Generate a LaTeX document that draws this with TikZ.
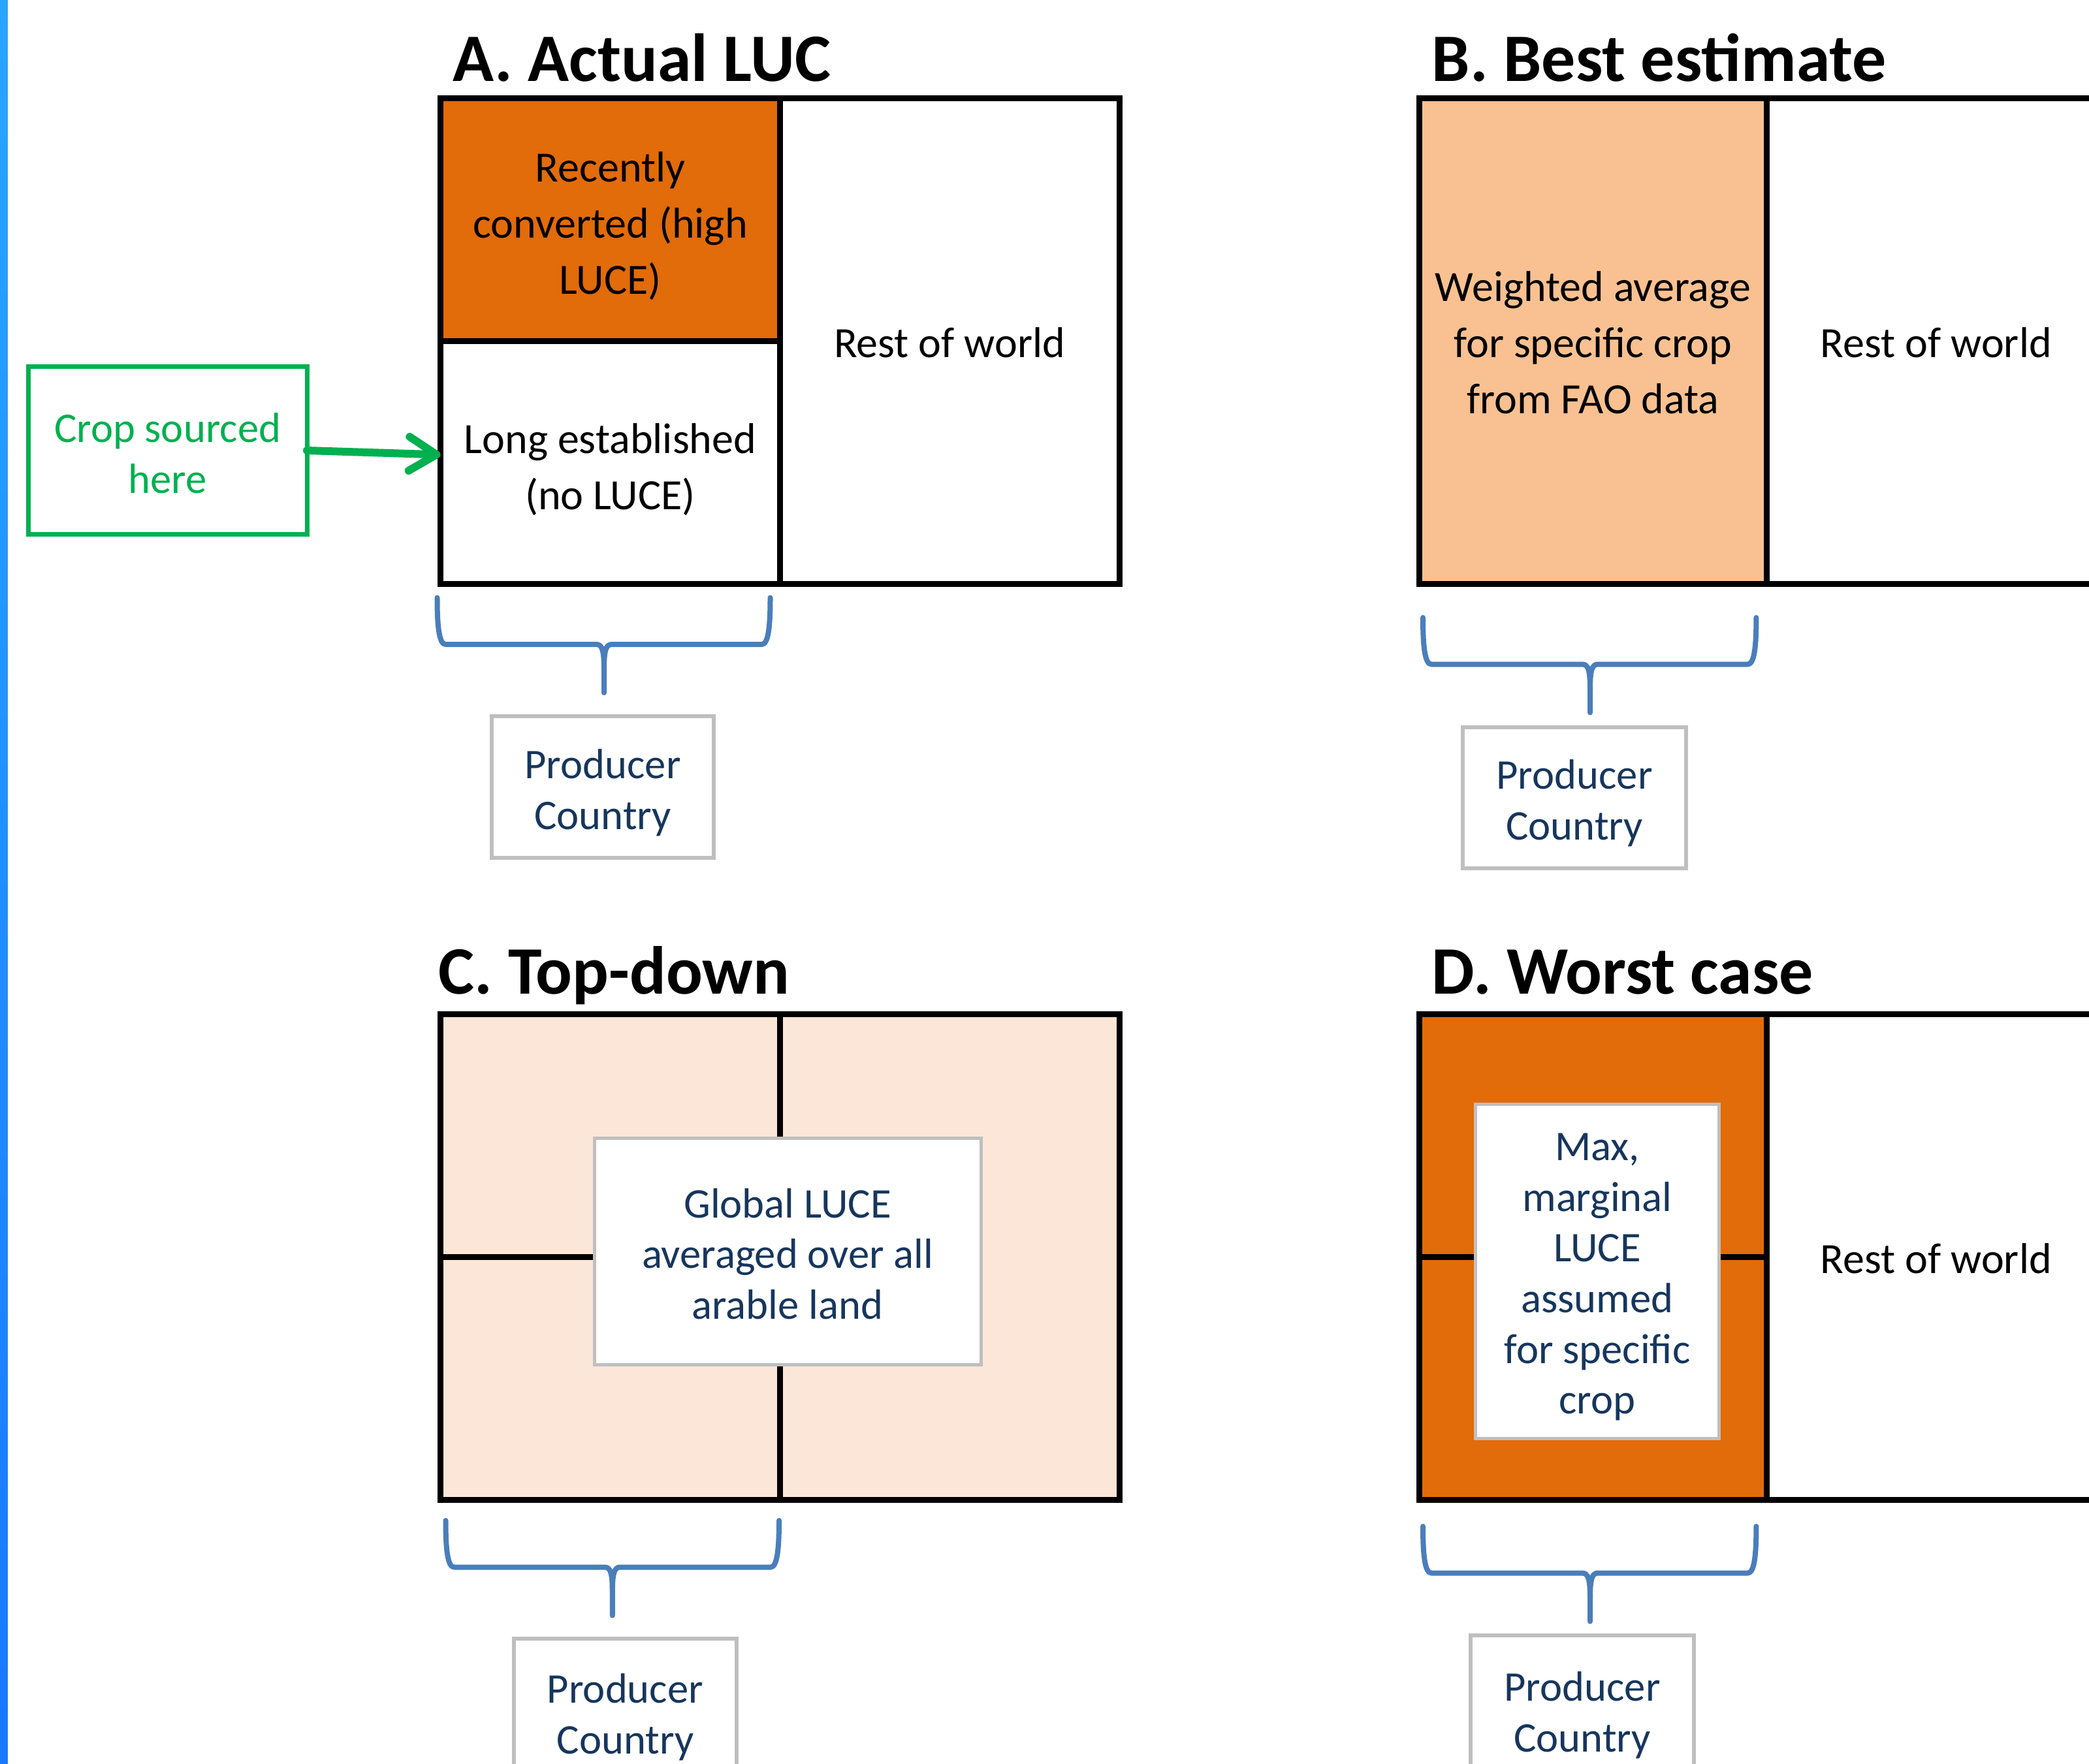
\documentclass[tikz,border=0pt]{standalone}
\usepackage{fontspec}
\setmainfont{Carlito}
\usepackage{tikz}
\usetikzlibrary{arrows.meta}

\definecolor{lucehigh}{HTML}{E26B0A}
\definecolor{luceavg}{HTML}{F9C191}
\definecolor{lucelow}{HTML}{FBE6D8}
\definecolor{notenavy}{HTML}{17365D}
\definecolor{sourcegreen}{HTML}{00B050}
\definecolor{braceblue}{HTML}{4A7EBB}
\definecolor{boxgray}{HTML}{BFBFBF}
\definecolor{barlight}{RGB}{40,165,255}
\definecolor{bardark}{RGB}{24,120,255}

\newcommand{\cellfont}{\fontsize{18.8}{24.5}\selectfont}
\newcommand{\lucenotefont}{\fontsize{18.4}{22.1}\selectfont}
\newcommand{\paneltitlefont}{\fontsize{29.6}{35}\selectfont\bfseries}

% left x, right x, top y, centre x
\newcommand{\curlybrace}[4]{%
 \draw[bracket] (#1,#3) .. controls (#1,#3-0.45) and (#1+0.03,#3-0.715) .. (#1+0.13,#3-0.715)
   -- (#4-0.12,#3-0.715) .. controls (#4-0.03,#3-0.715) and (#4,#3-0.8) .. (#4,#3-1.1) -- (#4,#3-1.455);
 \draw[bracket] (#2,#3) .. controls (#2,#3-0.45) and (#2-0.03,#3-0.715) .. (#2-0.13,#3-0.715)
   -- (#4+0.12,#3-0.715) .. controls (#4+0.03,#3-0.715) and (#4,#3-0.8) .. (#4,#3-1.1);
}

\tikzset{
 cellbox/.style={draw=black, line width=0.09cm, inner sep=0pt, outer sep=0pt},
 celltext/.style={inner sep=0pt, align=center, font=\cellfont},
 paneltitle/.style={font=\paneltitlefont, anchor=base west, inner sep=0pt},
 notebox/.style={draw=boxgray, line width=0.05cm, fill=white, inner sep=0pt},
 notetext/.style={inner sep=0pt, align=center, text=notenavy, font=\lucenotefont},
 producer/.style={notebox, line width=0.065cm},
 sourcebox/.style={draw=sourcegreen, line width=0.07cm, inner sep=0pt, outer sep=0pt, align=center, text=sourcegreen, font=\lucenotefont},
 bracket/.style={draw=braceblue, line width=0.08cm, line cap=round, line join=round},
 croparrow/.style={draw=sourcegreen, line width=0.12cm, line cap=round,
   -{Straight Barb[length=0.42cm, width=0.52cm, line cap=round, line join=round]}}
}

\begin{document}
\begin{tikzpicture}
%\draw[help lines] (0,0) grid (32,-27);
\useasboundingbox (0,0) rectangle (31.99,-27.01);
\clip (0,0) rectangle (31.99,-27.01);

\shade[top color=barlight, bottom color=bardark] (0,0) rectangle (0.12,-27.01);

% A. actual
\begin{scope}[xshift=6.745cm, yshift=-1.505cm]
 \node[paneltitle] (titleA) at (0.185,0.265) {A. Actual LUC};
 \node[cellbox, fill=lucehigh, minimum width=5.2cm, minimum height=3.72cm] (recentA) at (2.6,-1.86) {};
 \node[cellbox, minimum width=5.2cm, minimum height=3.72cm] (longA) at (2.6,-5.58) {};
 \node[cellbox, minimum width=5.195cm, minimum height=7.44cm] (restA) at (7.7975,-3.72) {};
 \node[celltext] (recentAtext) at ([yshift=-0.1cm]recentA.center) {Recently\\converted (high\\LUCE)};
 \node[celltext] (longAtext) at ([yshift=-0.11cm]longA.center) {Long established\\(no LUCE)};
 \node[celltext] (restAtext) at ([yshift=-0.02cm]restA.center) {Rest of world};
 \curlybrace{-0.05}{5.05}{-7.65}{2.505}
 \node[producer, minimum width=3.40cm, minimum height=2.17cm] (prodA) at (2.485,-10.55) {};
 \node[notetext] (prodAtext) at ([yshift=-0.09cm]prodA.center) {Producer\\Country};
\end{scope}

% B. best estimate
\begin{scope}[xshift=21.735cm, yshift=-1.505cm]
 \node[paneltitle] (titleB) at (0.185,0.265) {B. Best estimate};
 \node[cellbox, fill=luceavg, minimum width=5.315cm, minimum height=7.44cm] (avgB) at (2.6575,-3.72) {};
 \node[cellbox, minimum width=5.195cm, minimum height=7.44cm] (restB) at (7.9125,-3.72) {};
 \node[celltext] (avgBtext) at ([yshift=-0.02cm]avgB.center) {Weighted average\\for specific crop\\from FAO data};
 \node[celltext] (restBtext) at ([yshift=-0.02cm]restB.center) {Rest of world};
 \curlybrace{0.055}{5.159}{-7.955}{2.615}
 \node[producer, minimum width=3.42cm, minimum height=2.16cm] (prodB) at (2.375,-10.715) {};
 \node[notetext] (prodBtext) at ([yshift=-0.08cm]prodB.center) {Producer\\Country};
\end{scope}

% C. top-down
\begin{scope}[xshift=6.745cm, yshift=-15.535cm]
 \node[paneltitle] (titleC) at (-0.035,0.315) {C. Top-down};
 \node[cellbox, fill=lucelow, minimum width=5.2cm, minimum height=3.72cm] (topC) at (2.6,-1.86) {};
 \node[cellbox, fill=lucelow, minimum width=5.2cm, minimum height=3.72cm] (lowC) at (2.6,-5.58) {};
 \node[cellbox, fill=lucelow, minimum width=5.195cm, minimum height=7.44cm] (restC) at (7.7975,-3.72) {};
 \node[notebox, minimum width=5.92cm, minimum height=3.47cm] (globalC) at (5.315,-3.63) {};
 \node[notetext] (globalCtext) at ([yshift=-0.04cm]globalC.center) {Global LUCE\\averaged over all\\arable land};
 \curlybrace{0.08}{5.185}{-7.755}{2.633}
 \node[producer, minimum width=3.41cm, minimum height=2.17cm] (prodC) at (2.83,-10.65) {};
 \node[notetext] (prodCtext) at ([yshift=-0.12cm]prodC.center) {Producer\\Country};
\end{scope}

% D. worst case
\begin{scope}[xshift=21.735cm, yshift=-15.535cm]
 \node[paneltitle] (titleD) at (0.185,0.315) {D. Worst case};
 \node[cellbox, fill=lucehigh, minimum width=5.315cm, minimum height=3.72cm] (topD) at (2.6575,-1.86) {};
 \node[cellbox, fill=lucehigh, minimum width=5.315cm, minimum height=3.72cm] (lowD) at (2.6575,-5.58) {};
 \node[cellbox, minimum width=5.195cm, minimum height=7.44cm] (restD) at (7.9125,-3.72) {};
 \node[celltext] (restDtext) at ([yshift=-0.02cm]restD.center) {Rest of world};
 \node[notebox, minimum width=3.73cm, minimum height=5.12cm] (maxD) at (2.725,-3.935) {};
 \node[notetext] (maxDtext) at ([yshift=-0.09cm]maxD.center) {Max,\\marginal\\LUCE\\assumed\\for specific\\crop};
 \curlybrace{0.055}{5.159}{-7.845}{2.615}
 \node[producer, minimum width=3.42cm, minimum height=2.17cm] (prodD) at (2.495,-10.6) {};
 \node[notetext] (prodDtext) at ([yshift=-0.14cm]prodD.center) {Producer\\Country};
\end{scope}

% where the crop comes from
\node[sourcebox, minimum width=4.266cm, minimum height=2.57cm] (crop) at (2.567,-6.90) {};
\node[notetext, text=sourcegreen] (croptext) at ([yshift=-0.04cm]crop.center) {Crop sourced\\here};
\coordinate (cropin) at ([yshift=0.12cm]longA.west);
\draw[croparrow] (crop.east) -- (cropin);

\end{tikzpicture}
\end{document}
